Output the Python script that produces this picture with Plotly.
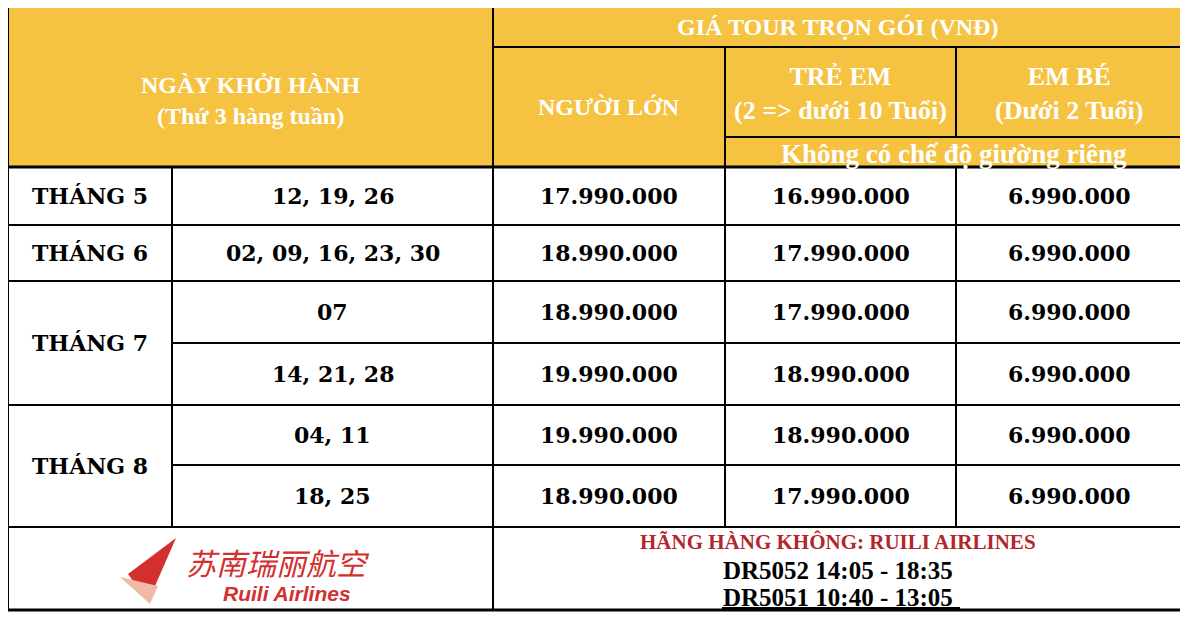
import plotly.graph_objects as go

months = ["THÁNG 5", "THÁNG 6", "THÁNG 7", "THÁNG 8"]
month_rows = [[0], [1], [2, 3], [4, 5]]
dates = ["12, 19, 26", "02, 09, 16, 23, 30", "07", "14, 21, 28", "04, 11", "18, 25"]
adult = ["17.990.000", "18.990.000", "18.990.000", "19.990.000", "19.990.000", "18.990.000"]
child = ["16.990.000", "17.990.000", "17.990.000", "18.990.000", "18.990.000", "17.990.000"]
infant = ["6.990.000"] * 6
flights = ["DR5052 14:05 - 18:35", "DR5051 10:40 - 13:05"]
airline = "HÃNG HÀNG KHÔNG: RUILI AIRLINES"

W, H = 1188, 618
OFF = 8  # page body margin
X = [8, 172, 493, 725, 956, 1182]
Y = [167, 225, 281, 343, 405, 465, 527]
TOP, FOOT = 6, 610
YEL = "#F5C242"
F = "Liberation Serif"
FD = "DejaVu Serif"

fig = go.Figure()
shapes, ann = [], []

def line(x0, y0, x1, y1, w=2):
    shapes.append(dict(type="line", x0=x0, y0=y0, x1=x1, y1=y1, line=dict(color="black", width=w)))

def text(x, y, s, size=22, color="black", font=F):
    ann.append(dict(x=x, y=y, text=s, showarrow=False, font=dict(family=font, size=size, color=color),
                    xanchor="center", yanchor="middle"))

shapes.append(dict(type="rect", x0=X[0], y0=TOP, x1=X[5], y1=Y[0], fillcolor=YEL, line=dict(width=0), layer="below"))

line(X[0], TOP, X[5], TOP)
line(X[2], 47, X[5], 47)
line(X[3], 137, X[5], 137)
line(X[0], Y[0], X[5], Y[0], 3)
line(X[2], TOP, X[2], FOOT)
line(X[3], 47, X[3], Y[6])
line(X[4], 47, X[4], 137)
line(X[4], Y[0], X[4], Y[6])
line(X[1], Y[0], X[1], Y[6])
line(X[0], TOP, X[0], FOOT)
line(X[5], TOP, X[5], FOOT)
line(X[0], FOOT, X[5], FOOT, 3)

for i in range(1, 7):
    full = i in (1, 2, 4, 6)
    line(X[0] if full else X[1], Y[i], X[5], Y[i], 2)

wt = "white"
text((X[0] + X[2]) / 2, 100, "<b>NGÀY KHỞI HÀNH<br>(Thứ 3 hàng tuần)</b>", 24, wt)
text((X[2] + X[5]) / 2, 27, "<b>GIÁ TOUR TRỌN GÓI (VNĐ)</b>", 24, wt)
text((X[2] + X[3]) / 2, 107, "<b>NGƯỜI LỚN</b>", 24, wt)
text((X[3] + X[4]) / 2, 93, "<b>TRẺ EM<br>(2 => dưới 10 Tuổi)</b>", 26, wt)
text((X[4] + X[5]) / 2, 93, "<b>EM BÉ<br>(Dưới 2 Tuổi)</b>", 26, wt)
text((X[3] + X[5]) / 2, 154, "<b>Không có chế độ giường riêng</b>", 27, wt)

for m, rows in zip(months, month_rows):
    yc = (Y[rows[0]] + Y[rows[-1] + 1]) / 2
    text((X[0] + X[1]) / 2, yc, "<b>" + m + "</b>", 22, font=FD)
for i in range(6):
    yc = (Y[i] + Y[i + 1]) / 2
    text((X[1] + X[2]) / 2, yc, "<b>" + dates[i] + "</b>", 22, font=FD)
    text((X[2] + X[3]) / 2, yc, "<b>" + adult[i] + "</b>", 22, font=FD)
    text((X[3] + X[4]) / 2, yc, "<b>" + child[i] + "</b>", 22, font=FD)
    text((X[4] + X[5]) / 2, yc, "<b>" + infant[i] + "</b>", 22, font=FD)

cx = (X[2] + X[5]) / 2
text(cx, 542, "<b>" + airline + "</b>", 21, "#B3262A")
text(cx, 570, "<b>" + flights[0] + "</b>", 25)
text(cx, 597, "<b>" + flights[1] + "</b>", 25)
line(722, 608, 960, 608, 2)

shapes.append(dict(type="path", path="M 176 538 L 128 574 L 148 602 Z", fillcolor="#D32F2F", line=dict(width=0)))
shapes.append(dict(type="path", path="M 120 577 L 158 586 L 150 604 Z", fillcolor="#F2B9A6", line=dict(width=0)))
text(278, 562, "<i>苏南瑞丽航空</i>", 30, "#D32F2F", "Noto Sans CJK SC")
text(287, 593, "<b><i>Ruili Airlines</i></b>", 21, "#D32F2F", "Liberation Sans")

fig.update_layout(width=W, height=H, margin=dict(l=0, r=0, t=0, b=0),
                  paper_bgcolor="white", plot_bgcolor="white", shapes=shapes, annotations=ann,
                  xaxis=dict(range=[OFF, W + OFF], visible=False, fixedrange=True),
                  yaxis=dict(range=[H + OFF, OFF], visible=False, fixedrange=True), showlegend=False)
fig.write_html("out.html")
